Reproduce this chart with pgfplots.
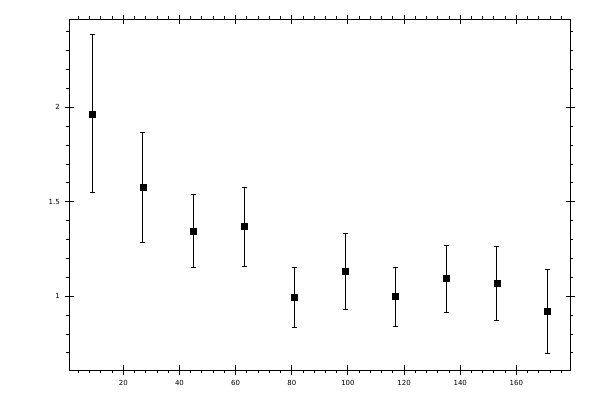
\documentclass[border=0pt]{standalone}
\usepackage{fontspec}
\setmainfont{DejaVu Sans}
\usepackage{pgfplots}
\pgfplotsset{compat=1.18}
\begin{document}
\begin{tikzpicture}
\path[use as bounding box] (0,0) rectangle (600bp,400bp);
\pgfplotsset{
  common/.style={
    at={(69.3bp,30bp)}, anchor=south west,
    scale only axis, width=500.7bp, height=350.7bp,
    xmin=0.75, xmax=179.1, ymin=0.61, ymax=2.466,
    xtick={20,40,...,160}, ytick={1,1.5,2},
    axis line style={line width=1bp},
  }
}
\begin{axis}[common,
    minor xtick={4,8,12,16,24,28,32,36,44,48,52,56,64,68,72,76,84,88,92,96,104,108,112,116,124,128,132,136,144,148,152,156,164,168,172,176},
    minor ytick={0.7,0.8,0.9,1.1,1.2,1.3,1.4,1.6,1.7,1.8,1.9,2.1,2.2,2.3,2.4},
    tick align=outside,
    major tick length=4.5bp, minor tick length=3.2bp,
    minor tick style={line width=1bp, black},
    major tick style={line width=1bp, black},
    /pgf/number format/assume math mode=true,
    tick label style={font=\fontsize{7}{7}\selectfont},
    xticklabel style={yshift=-2bp},
    yticklabel style={xshift=-1.5bp},
  ]
\addplot+[only marks, black, mark=square*, mark size=3bp,
  mark options={fill=black, draw=black},
  error bars/.cd, y dir=both, y explicit,
  error bar style={line width=1bp, black},
  error mark options={rotate=90, mark size=2.5bp, line width=1bp, black}]
  table[x=x, y=y, y error plus=ep, y error minus=em] {
x y ep em
9 1.965 0.418 0.418
27 1.577 0.291 0.291
45 1.344 0.196 0.191
63 1.370 0.207 0.211
81 0.995 0.156 0.159
99 1.132 0.199 0.201
117 1.000 0.151 0.159
135 1.095 0.175 0.180
153 1.069 0.196 0.196
171 0.921 0.222 0.223
};
\end{axis}
\begin{axis}[common,
    tick align=inside, major tick length=4.5bp,
    major tick style={line width=1bp, black},
    xticklabels={}, yticklabels={},
  ]
\end{axis}
\end{tikzpicture}
\end{document}
